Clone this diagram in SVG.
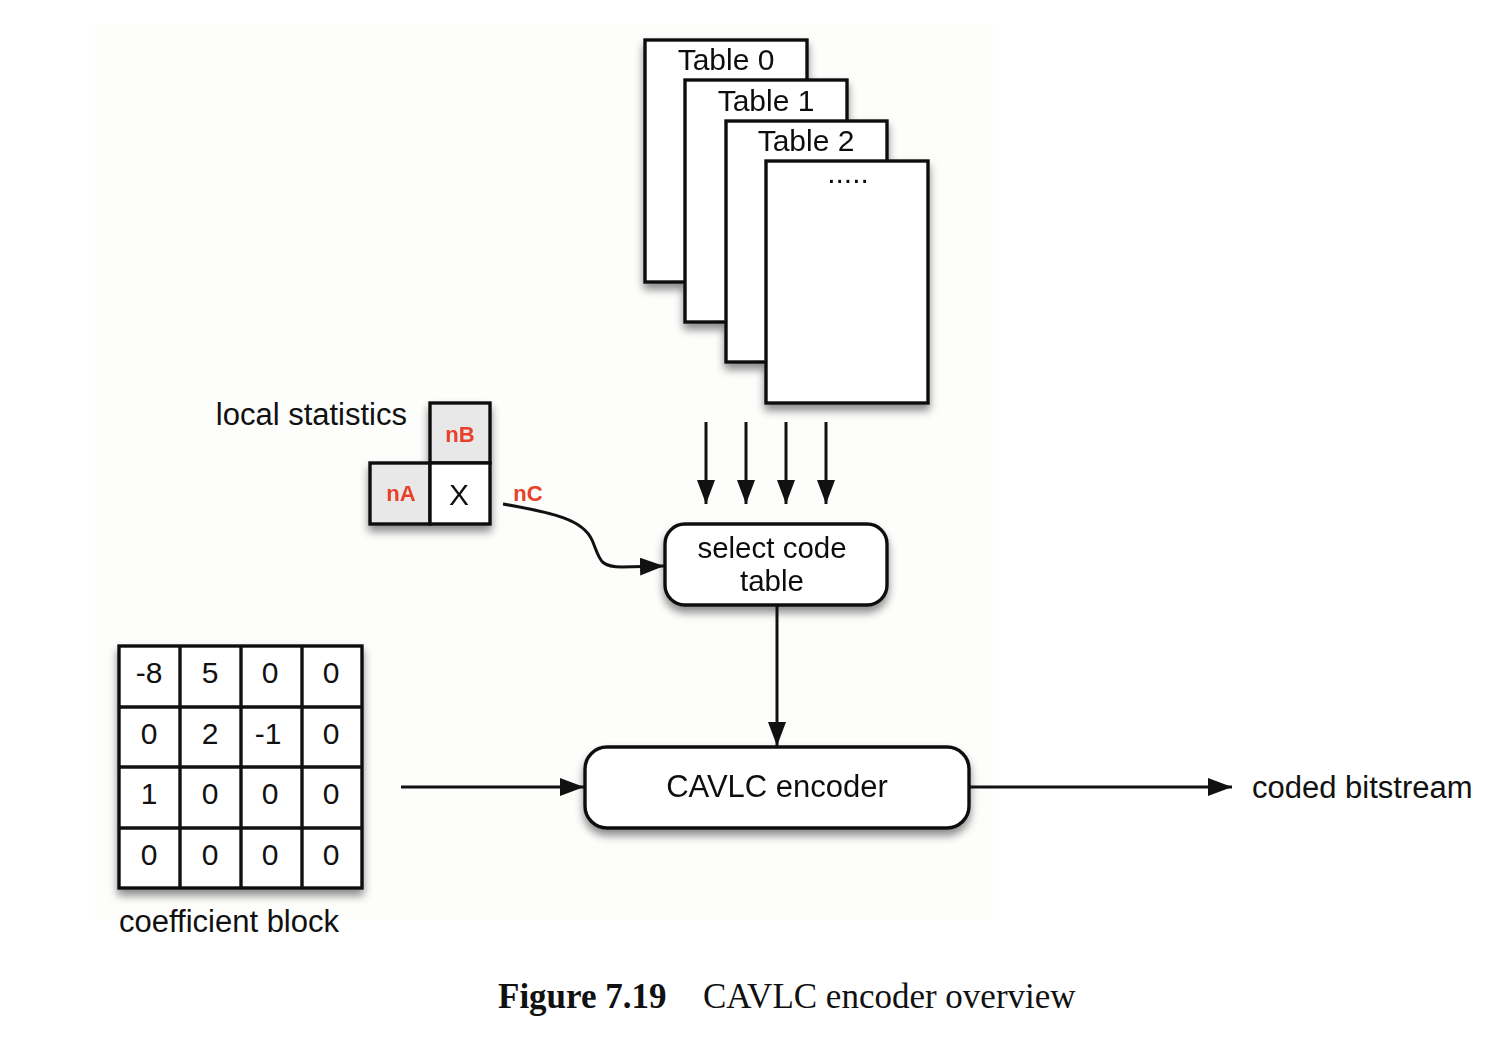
<svg xmlns="http://www.w3.org/2000/svg" width="1512" height="1042" viewBox="0 0 1512 1042">
<style>
.box{fill:#fff;stroke:#111;stroke-width:3.4}
.grey{fill:#e8e8e8;stroke:#111;stroke-width:3.4}
.t{font-family:"Liberation Sans",Arial,sans-serif;font-size:30px;fill:#111}
.c{text-anchor:middle}
.red{font-family:"Liberation Sans",Arial,sans-serif;font-size:22px;font-weight:bold;fill:#e8412a;text-anchor:middle}
.conn{fill:none;stroke:#111;stroke-width:3}
.cap{font-family:"Liberation Serif","Times New Roman",serif;font-size:35px;fill:#111}
</style>
<defs>
<filter id="sh" x="-20%" y="-20%" width="140%" height="150%">
<feDropShadow dx="0" dy="6" stdDeviation="4" flood-color="#000" flood-opacity="0.45"/>
</filter>
<marker id="ah" markerUnits="userSpaceOnUse" markerWidth="26" markerHeight="20" refX="24" refY="9" orient="auto">
<path d="M0,0 L24,9 L0,18 Z" fill="#111"/>
</marker>
</defs>
<rect width="1512" height="1042" fill="#fff"/>
<rect x="95" y="25" width="898" height="895" fill="#fdfdfc"/>

<g id="tables" filter="url(#sh)">
<g id="table0"><rect class="box" x="645" y="40" width="162" height="242"/><text class="t c" x="726" y="70">Table 0</text></g>
<g id="table1"><rect class="box" x="685" y="80" width="162" height="242"/><text class="t c" x="766" y="111">Table 1</text></g>
<g id="table2"><rect class="box" x="726" y="121" width="161" height="241"/><text class="t c" x="806" y="151">Table 2</text></g>
<g id="table3"><rect class="box" x="766" y="161" width="162" height="242"/><text class="t c" x="848" y="183">.....</text></g>
</g>

<text id="local-statistics" class="t" x="407" y="425" text-anchor="end" style="font-size:31px">local statistics</text>
<g id="neighbours" filter="url(#sh)">
<g id="nB"><rect class="grey" x="430" y="403" width="60" height="60"/><text class="red" x="460" y="442">nB</text></g>
<g id="nA"><rect class="grey" x="370" y="463" width="60" height="61"/><text class="red" x="401" y="501">nA</text></g>
<g id="X"><rect class="box" x="430" y="463" width="60" height="61"/><text class="t c" x="459" y="505">X</text></g>
</g>
<text id="nC" class="red" x="528" y="501">nC</text>

<g id="select-code-table" filter="url(#sh)">
<rect class="box" x="665" y="524" width="222" height="81" rx="20" ry="20"/>
<text class="t c" x="772" y="558" style="font-size:29.5px">select code</text>
<text class="t c" x="772" y="591" style="font-size:29.5px">table</text>
</g>

<g id="cavlc-encoder" filter="url(#sh)">
<rect class="box" x="585" y="747" width="384" height="81" rx="22" ry="22"/>
<text class="t c" x="777" y="797" style="font-size:31px">CAVLC encoder</text>
</g>

<g id="coefficient-block">
<g filter="url(#sh)">
<rect class="box" x="119" y="646" width="243" height="242"/>
</g>
<g fill="none" stroke="#111" stroke-width="3.4">
<line x1="180" y1="646" x2="180" y2="888"/>
<line x1="241" y1="646" x2="241" y2="888"/>
<line x1="302" y1="646" x2="302" y2="888"/>
<line x1="119" y1="707" x2="362" y2="707"/>
<line x1="119" y1="767" x2="362" y2="767"/>
<line x1="119" y1="828" x2="362" y2="828"/>
</g>
<g>
<text class="t c" x="149" y="683">-8</text><text class="t c" x="210" y="683">5</text><text class="t c" x="270" y="683">0</text><text class="t c" x="331" y="683">0</text>
<text class="t c" x="149" y="744">0</text><text class="t c" x="210" y="744">2</text><text class="t c" x="268" y="744">-1</text><text class="t c" x="331" y="744">0</text>
<text class="t c" x="149" y="804">1</text><text class="t c" x="210" y="804">0</text><text class="t c" x="270" y="804">0</text><text class="t c" x="331" y="804">0</text>
<text class="t c" x="149" y="865">0</text><text class="t c" x="210" y="865">0</text><text class="t c" x="270" y="865">0</text><text class="t c" x="331" y="865">0</text>
</g>
<text class="t" x="119" y="932" style="font-size:31px">coefficient block</text>
</g>

<text id="coded-bitstream" class="t" x="1252" y="798" style="font-size:31px">coded bitstream</text>

<g id="connectors">
<line class="conn" x1="706" y1="422" x2="706" y2="504" marker-end="url(#ah)"/>
<line class="conn" x1="746" y1="422" x2="746" y2="504" marker-end="url(#ah)"/>
<line class="conn" x1="786" y1="422" x2="786" y2="504" marker-end="url(#ah)"/>
<line class="conn" x1="826" y1="422" x2="826" y2="504" marker-end="url(#ah)"/>
<path class="conn" d="M503,504 C555,513 583,520 592,540 C600,558 598,567 622,567 L664,566" marker-end="url(#ah)"/>
<line class="conn" x1="777" y1="605" x2="777" y2="746" marker-end="url(#ah)"/>
<line class="conn" x1="401" y1="787" x2="584" y2="787" marker-end="url(#ah)"/>
<line class="conn" x1="970" y1="787" x2="1232" y2="787" marker-end="url(#ah)"/>
</g>

<g id="caption">
<text class="cap" x="498" y="1008" font-weight="bold">Figure 7.19</text>
<text class="cap" x="703" y="1008">CAVLC encoder overview</text>
</g>
</svg>
